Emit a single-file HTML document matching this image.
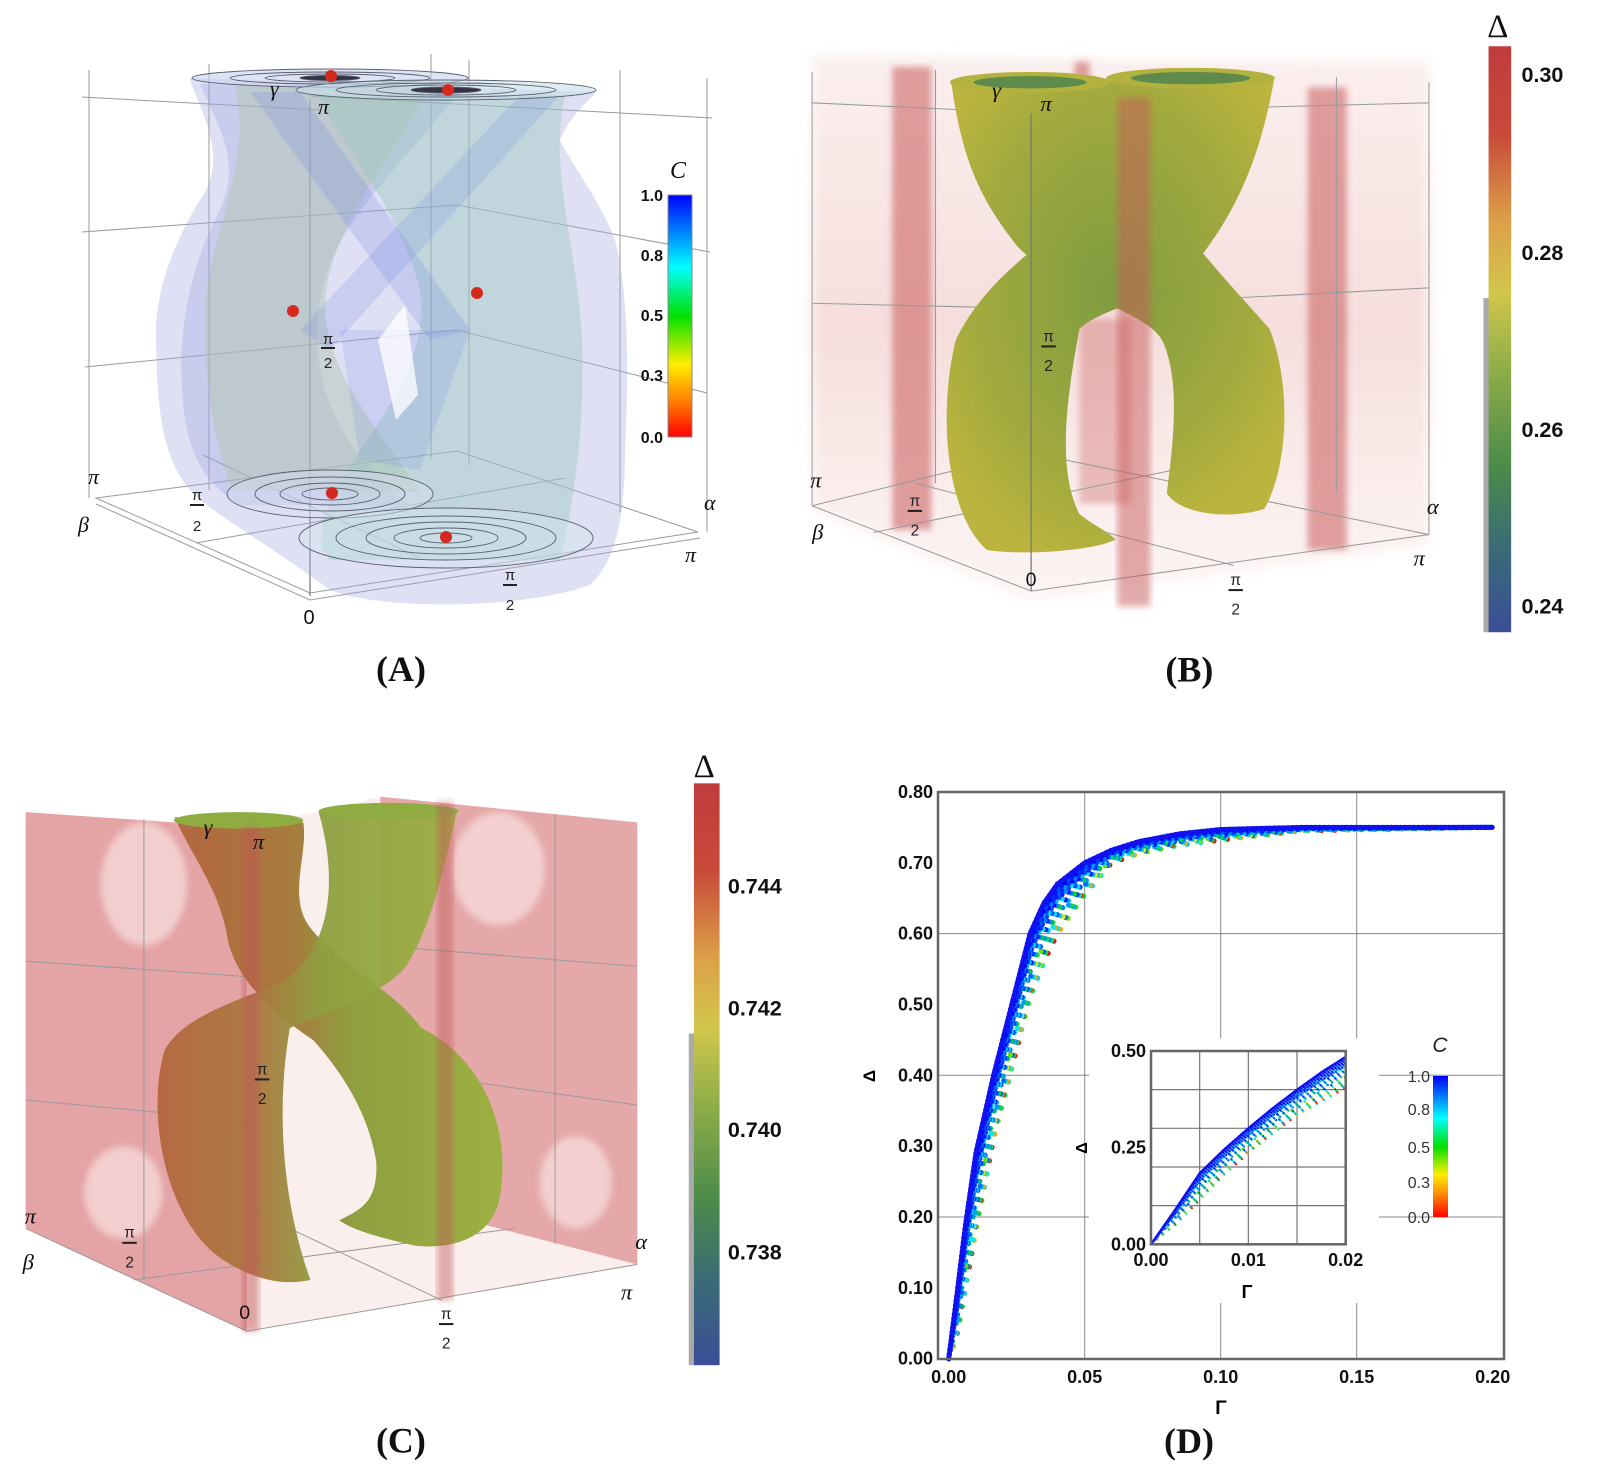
<!DOCTYPE html>
<html><head><meta charset="utf-8"><style>
html,body{margin:0;padding:0;background:#fff}
svg{display:block}
text{font-family:"Liberation Sans",sans-serif}
.serif{font-family:"Liberation Serif",serif}
.ax{font-family:"Liberation Serif",serif;font-style:italic;font-size:22px;fill:#111}
.frac{font-family:"Liberation Sans",sans-serif;font-size:15px;fill:#222}
.wire{stroke:#9a9a9a;stroke-width:1;fill:none}
</style></head><body>
<svg id="fig" width="1610" height="1468" viewBox="0 0 1610 1468" xmlns="http://www.w3.org/2000/svg">
<defs>
<linearGradient id="cmapV" x1="0" y1="1" x2="0" y2="0">
<stop offset="0" stop-color="#ff0000"/><stop offset="0.15" stop-color="#ff8000"/><stop offset="0.3" stop-color="#ffee00"/><stop offset="0.5" stop-color="#00e000"/><stop offset="0.7" stop-color="#00ffff"/><stop offset="0.85" stop-color="#0080ff"/><stop offset="1" stop-color="#0000ff"/>
</linearGradient>
<linearGradient id="deltaV" x1="0" y1="0" x2="0" y2="1">
<stop offset="0" stop-color="#c03c3c"/><stop offset="0.15" stop-color="#c84a3a"/><stop offset="0.3" stop-color="#dca048"/><stop offset="0.42" stop-color="#d2c64c"/><stop offset="0.55" stop-color="#8fae48"/><stop offset="0.72" stop-color="#4a8a4a"/><stop offset="0.86" stop-color="#3a6a78"/><stop offset="1" stop-color="#3a4e98"/>
</linearGradient>
<linearGradient id="stripV" x1="0" y1="0" x2="0" y2="1">
<stop offset="0" stop-color="#fff"/><stop offset="0.43" stop-color="#fff"/><stop offset="0.43" stop-color="#aaa"/><stop offset="1" stop-color="#aaa"/>
</linearGradient>
<radialGradient id="tubeB" cx="0.5" cy="0.45" r="0.6">
<stop offset="0" stop-color="#7f9c40"/><stop offset="0.7" stop-color="#a3aa3e"/><stop offset="1" stop-color="#bbb43e"/>
</radialGradient>
<linearGradient id="tubeC" x1="0" y1="0" x2="1" y2="0">
<stop offset="0" stop-color="#b3663e"/><stop offset="0.35" stop-color="#a87a3e"/><stop offset="0.55" stop-color="#8ea040"/><stop offset="1" stop-color="#9db042"/>
</linearGradient>
<linearGradient id="fogB" x1="0" y1="0" x2="0" y2="1">
<stop offset="0" stop-color="#f3d6d4" stop-opacity="0.4"/><stop offset="0.5" stop-color="#efc8c4" stop-opacity="0.6"/><stop offset="1" stop-color="#f5dedb" stop-opacity="0.3"/>
</linearGradient>
<filter id="blur3"><feGaussianBlur stdDeviation="3"/></filter>
<filter id="blur6"><feGaussianBlur stdDeviation="6"/></filter>
</defs>

<!-- ============ PANEL A ============ -->
<g>
<g>
<line class="wire" x1="89" y1="70" x2="89" y2="498"/>
<line class="wire" x1="209" y1="64" x2="209" y2="490"/>
<line class="wire" x1="431" y1="54" x2="431" y2="459"/>
<line class="wire" x1="469" y1="60" x2="469" y2="465"/>
<line class="wire" x1="620" y1="70" x2="620" y2="512"/>
<line class="wire" x1="707" y1="78" x2="707" y2="532"/>
<polyline class="wire" points="82,97 320,110"/>
<polyline class="wire" points="310,96 712,118"/>
<polyline class="wire" points="82,232 457,205 710,252"/>
<polyline class="wire" points="85,367 457,330 707,393"/>
<polygon class="wire" points="96,498 310,593 698,532 457,451"/>
<polyline class="wire" points="96,504 310,600 700,538"/>
<polyline class="wire" points="196,543 565,478"/>
<polyline class="wire" points="203,455 420,558"/>
<line x1="310" y1="99" x2="310" y2="596" stroke="#777" stroke-width="1.2"/>
</g>
<g>
<path d="M190,80 C205,120 228,160 200,200 C175,240 156,290 156,330 C156,420 165,470 200,500 C240,530 290,560 330,590 C380,610 520,610 590,585 C618,560 625,510 625,450 C628,380 630,300 615,240 C600,200 575,170 560,140 C570,115 590,100 596,92 L190,78 Z" fill="rgb(165,165,225)" fill-opacity="0.35"/>
<path d="M200,84 C220,130 245,165 215,220 C190,270 178,330 182,390 C186,450 200,480 240,505 L410,505 C330,440 310,380 320,300 C330,220 420,150 460,88 Z" fill="rgb(150,160,220)" fill-opacity="0.3"/>
<path d="M235,86 C250,150 225,200 208,280 C200,350 210,430 232,490 L420,492 C380,430 330,380 325,310 C322,240 395,150 430,88 Z" fill="rgb(175,195,170)" fill-opacity="0.45"/>
<path d="M318,95 C345,150 400,210 420,290 C430,360 380,420 340,480 C320,520 315,545 330,560 L560,560 C575,500 585,420 582,340 C578,250 548,170 565,96 Z" fill="rgb(150,200,185)" fill-opacity="0.42"/>
<path d="M250,92 L300,92 L470,330 L430,340 Z" fill="rgb(120,140,225)" fill-opacity="0.25"/>
<path d="M520,95 L560,95 L330,350 L300,330 Z" fill="rgb(120,140,225)" fill-opacity="0.22"/>
<path d="M340,330 L470,330 L420,470 L360,460 Z" fill="rgb(120,140,225)" fill-opacity="0.2"/>
<polygon points="378,340 405,305 418,395 396,420" fill="#fff" fill-opacity="0.75"/>
</g>
<g fill="none" stroke="#5a6070" stroke-width="0.9">
<ellipse cx="330" cy="78" rx="138" ry="9" fill="#c8d0ee" fill-opacity="0.6"/>
<ellipse cx="330" cy="78" rx="100" ry="6"/><ellipse cx="330" cy="78" rx="65" ry="4"/><ellipse cx="330" cy="78" rx="30" ry="2.5" fill="#334"/>
<ellipse cx="446" cy="90" rx="150" ry="10" fill="#c8e0ea" fill-opacity="0.6"/>
<ellipse cx="446" cy="90" rx="110" ry="7"/><ellipse cx="446" cy="90" rx="70" ry="5"/><ellipse cx="446" cy="90" rx="35" ry="3" fill="#334"/>
<ellipse cx="330" cy="494" rx="103" ry="24" fill="#d8dcf0" fill-opacity="0.5"/>
<ellipse cx="330" cy="494" rx="75" ry="17"/><ellipse cx="330" cy="494" rx="50" ry="11"/><ellipse cx="330" cy="494" rx="28" ry="6"/>
<ellipse cx="446" cy="538" rx="147" ry="30" fill="#d0e4ec" fill-opacity="0.5"/>
<ellipse cx="446" cy="538" rx="110" ry="22"/><ellipse cx="446" cy="538" rx="80" ry="16"/><ellipse cx="446" cy="538" rx="52" ry="10"/><ellipse cx="446" cy="538" rx="26" ry="5"/>
</g>
<g fill="#d42a1e">
<circle cx="331" cy="76" r="6"/><circle cx="448" cy="90" r="6"/><circle cx="293" cy="311" r="6"/><circle cx="477" cy="293" r="6"/><circle cx="332" cy="493" r="6"/><circle cx="446" cy="537" r="6"/>
</g>
<g>
<text class="ax" x="270" y="96">γ</text>
<text class="ax" x="318" y="114">π</text>
<text class="frac" x="328" y="344" text-anchor="middle">π</text><line x1="321" y1="348" x2="335" y2="348" stroke="#222" stroke-width="2"/><text class="frac" x="328" y="368" text-anchor="middle">2</text>
<text class="ax" x="88" y="484">π</text>
<text class="ax" x="78" y="532">β</text>
<text class="frac" x="197" y="500" text-anchor="middle">π</text><line x1="190" y1="505" x2="204" y2="505" stroke="#222" stroke-width="2"/><text class="frac" x="197" y="531" text-anchor="middle">2</text>
<text x="309" y="624" text-anchor="middle" font-size="20" fill="#111">0</text>
<text class="frac" x="510" y="580" text-anchor="middle">π</text><line x1="503" y1="585" x2="517" y2="585" stroke="#222" stroke-width="2"/><text class="frac" x="510" y="610" text-anchor="middle">2</text>
<text class="ax" x="685" y="562">π</text>
<text class="ax" x="704" y="510">α</text>
</g>
<g>
<text class="serif" x="678" y="178" font-style="italic" font-size="24" text-anchor="middle" fill="#111">C</text>
<rect x="668" y="195" width="24" height="242" fill="url(#cmapV)" stroke="#888" stroke-width="1"/>
<g class="serif" font-size="16" font-weight="bold" fill="#111" text-anchor="end">
<text x="663" y="201">1.0</text><text x="663" y="261">0.8</text><text x="663" y="321">0.5</text><text x="663" y="381">0.3</text><text x="663" y="443">0.0</text>
</g>
</g>
<text class="serif" x="401" y="681" font-size="36" font-weight="bold" text-anchor="middle" fill="#111">(A)</text>
</g>

<!-- ============ PANELS B & C ============ -->
<g transform="scale(1.028)">
<g>
<polygon points="790,55 1390,60 1390,530 1003,585 790,495" fill="url(#fogB)" filter="url(#blur6)"/>
<g fill="#c85a5a" fill-opacity="0.55" filter="url(#blur3)">
<rect x="868" y="65" width="38" height="450"/><rect x="1272" y="85" width="38" height="450"/><rect x="1045" y="60" width="15" height="40"/><rect x="1050" y="310" width="50" height="180" fill-opacity="0.35"/>
</g>
<g>
<line class="wire" x1="790" y1="70" x2="790" y2="492"/><line class="wire" x1="1390" y1="80" x2="1390" y2="520"/>
<line class="wire" x1="910" y1="68" x2="910" y2="470"/><line class="wire" x1="1300" y1="75" x2="1300" y2="480"/>
<polyline class="wire" points="790,100 1003,110 1390,100"/>
<polyline class="wire" points="790,295 1003,300 1390,280"/>
<polyline class="wire" points="790,492 1003,575 1390,520"/>
<polyline class="wire" points="790,492 1000,440 1390,520"/>
<polyline class="wire" points="850,518 1200,445"/><polyline class="wire" points="890,470 1200,550"/>
</g>
<g>
<path d="M925,78 C935,150 950,190 990,240 C1040,290 1110,300 1130,330 C1150,370 1140,440 1135,480 C1150,502 1200,505 1230,495 C1255,450 1255,370 1235,320 C1200,280 1160,240 1130,190 C1100,150 1090,110 1085,82 Z" fill="url(#tubeB)"/>
<path d="M1078,78 L1240,74 C1225,160 1200,210 1160,260 C1120,295 1070,300 1050,320 C1035,400 1030,460 1050,500 C1065,512 1080,518 1085,525 C1060,537 990,540 960,535 C920,500 912,400 930,330 C960,270 1010,240 1060,200 C1090,160 1085,110 1078,78 Z" fill="url(#tubeB)"/>
<ellipse cx="1002" cy="80" rx="78" ry="10" fill="#b4b23e"/><ellipse cx="1002" cy="80" rx="55" ry="6" fill="#5e8a4c"/>
<ellipse cx="1158" cy="76" rx="82" ry="10" fill="#b4b23e"/><ellipse cx="1158" cy="76" rx="58" ry="6" fill="#5e8a4c"/>
<rect x="1087" y="95" width="32" height="495" fill="#c85a5a" fill-opacity="0.5" filter="url(#blur3)"/>
</g>
<line x1="1003" y1="110" x2="1003" y2="575" stroke="#777" stroke-width="1.2"/>
<g>
<text class="ax" x="965" y="95">γ</text><text class="ax" x="1012" y="108">π</text>
<text class="frac" x="1020" y="332" text-anchor="middle">π</text><line x1="1013" y1="337" x2="1027" y2="337" stroke="#222" stroke-width="2"/><text class="frac" x="1020" y="361" text-anchor="middle">2</text>
<text class="ax" x="788" y="474">π</text><text class="ax" x="790" y="525">β</text>
<text class="frac" x="890" y="492" text-anchor="middle">π</text><line x1="883" y1="497" x2="897" y2="497" stroke="#222" stroke-width="2"/><text class="frac" x="890" y="521" text-anchor="middle">2</text>
<text x="1003" y="570" text-anchor="middle" font-size="19" fill="#111">0</text>
<text class="frac" x="1202" y="569" text-anchor="middle">π</text><line x1="1195" y1="574" x2="1209" y2="574" stroke="#222" stroke-width="2"/><text class="frac" x="1202" y="598" text-anchor="middle">2</text>
<text class="ax" x="1375" y="550">π</text><text class="ax" x="1388" y="500">α</text>
</g>
<g>
<text class="serif" x="1457" y="36" font-size="32" text-anchor="middle" fill="#111">Δ</text>
<rect x="1443" y="45" width="6" height="570" fill="url(#stripV)"/>
<rect x="1448" y="45" width="22" height="570" fill="url(#deltaV)"/>
<g font-size="21" font-weight="bold" fill="#111"><text x="1480" y="80">0.30</text><text x="1480" y="253">0.28</text><text x="1480" y="425">0.26</text><text x="1480" y="597">0.24</text></g>
</g>
<text class="serif" x="1157" y="663" font-size="35" font-weight="bold" text-anchor="middle" fill="#111">(B)</text>
</g>

<g>
<polygon points="240,805 370,775 620,800 620,1230 240,1295 25,1195 25,790" fill="#f6e4e0" fill-opacity="0.6"/>
<polygon points="25,790 240,805 240,1295 25,1195" fill="#dc8a8c" fill-opacity="0.75"/>
<polygon points="370,775 620,800 620,1230 370,1165" fill="#dc8a8c" fill-opacity="0.7"/>
<g fill="#f7dcdc" fill-opacity="0.75" filter="url(#blur3)">
<ellipse cx="140" cy="860" rx="42" ry="60"/><ellipse cx="120" cy="1160" rx="38" ry="45"/><ellipse cx="485" cy="845" rx="45" ry="55"/><ellipse cx="560" cy="1150" rx="35" ry="45"/>
</g>
<g>
<line class="wire" x1="140" y1="797" x2="140" y2="1245"/><line class="wire" x1="540" y1="792" x2="540" y2="1210"/>
<polyline class="wire" points="25,935 240,950"/><polyline class="wire" points="25,1070 240,1090"/>
<polyline class="wire" points="370,920 620,940"/><polyline class="wire" points="370,1040 620,1075"/>
<polyline class="wire" points="25,1195 240,1295 620,1230"/><polyline class="wire" points="130,1245 500,1195"/><polyline class="wire" points="250,1180 430,1265"/>
</g>
<g>
<path d="M170,795 L295,800 C300,830 280,870 300,900 C330,940 380,960 410,1000 C470,1030 500,1100 485,1170 C475,1205 440,1215 405,1212 C375,1205 345,1198 330,1187 C350,1177 368,1170 366,1130 C358,1080 330,1040 305,1012 C265,985 225,950 220,905 C210,860 185,830 170,795 Z" fill="url(#tubeC)"/>
<path d="M310,790 L445,788 C430,850 420,900 395,940 C370,970 315,985 282,1000 C268,1080 275,1170 302,1245 C272,1252 240,1242 212,1222 C160,1182 142,1082 160,1022 C180,985 240,972 280,952 C320,920 330,860 310,790 Z" fill="url(#tubeC)" fill-opacity="0.95"/>
<ellipse cx="232" cy="798" rx="63" ry="8" fill="#8fac42"/><ellipse cx="378" cy="789" rx="68" ry="8" fill="#8fac42"/>
<rect x="236" y="805" width="16" height="490" fill="#c05858" fill-opacity="0.5" filter="url(#blur3)"/>
<rect x="425" y="780" width="16" height="485" fill="#c05858" fill-opacity="0.45" filter="url(#blur3)"/>
</g>
<g>
<text class="ax" x="198" y="812">γ</text><text class="ax" x="246" y="826">π</text>
<text class="frac" x="255" y="1045" text-anchor="middle">π</text><line x1="248" y1="1050" x2="262" y2="1050" stroke="#222" stroke-width="2"/><text class="frac" x="255" y="1074" text-anchor="middle">2</text>
<text class="ax" x="24" y="1190">π</text><text class="ax" x="22" y="1235">β</text>
<text class="frac" x="126" y="1204" text-anchor="middle">π</text><line x1="119" y1="1209" x2="133" y2="1209" stroke="#222" stroke-width="2"/><text class="frac" x="126" y="1233" text-anchor="middle">2</text>
<text x="238" y="1283" text-anchor="middle" font-size="19" fill="#111">0</text>
<text class="frac" x="434" y="1283" text-anchor="middle">π</text><line x1="427" y1="1288" x2="441" y2="1288" stroke="#222" stroke-width="2"/><text class="frac" x="434" y="1312" text-anchor="middle">2</text>
<text class="ax" x="604" y="1264">π</text><text class="ax" x="618" y="1215">α</text>
</g>
<g>
<text class="serif" x="685" y="756" font-size="32" text-anchor="middle" fill="#111">Δ</text>
<rect x="670" y="762" width="6" height="566" fill="url(#stripV)"/>
<rect x="675" y="762" width="25" height="566" fill="url(#deltaV)"/>
<g font-size="21" font-weight="bold" fill="#111"><text x="708" y="869">0.744</text><text x="708" y="988">0.742</text><text x="708" y="1106">0.740</text><text x="708" y="1225">0.738</text></g>
</g>
<text class="serif" x="390" y="1413" font-size="35" font-weight="bold" text-anchor="middle" fill="#111">(C)</text>
</g>
</g>

<!-- ============ PANEL D ============ -->
<g id="panelD">
<rect x="938" y="792" width="566" height="567" fill="#fff"/>
<g id="dGrid"></g>
<rect x="1089" y="1038" width="290" height="265" fill="#fff"/>
<g id="dDots"></g>
<rect x="938" y="792" width="566" height="567" fill="none" stroke="#666" stroke-width="2.5"/>
<g id="dTicks"></g>
<text x="875" y="1076" font-size="17" font-weight="bold" text-anchor="middle" transform="rotate(-90 875 1076)">Δ</text>
<text x="1221" y="1414" font-size="19" font-weight="bold" text-anchor="middle">Γ</text>
<g id="iGrid"></g>
<g id="iDots"></g>
<rect x="1151" y="1051" width="194.7" height="193.3" fill="none" stroke="#666" stroke-width="2.5"/>
<g id="iTicks"></g>
<text x="1087" y="1148" font-size="16" font-weight="bold" text-anchor="middle" transform="rotate(-90 1087 1148)">Δ</text>
<text x="1247" y="1298" font-size="18" font-weight="bold" text-anchor="middle">Γ</text>
<g>
<text x="1440" y="1052" font-size="21" font-style="italic" text-anchor="middle" fill="#222">C</text>
<rect x="1433" y="1076" width="15" height="141" fill="url(#cmapV)"/>
<g font-size="16" fill="#333" text-anchor="end"><text x="1430" y="1082">1.0</text><text x="1430" y="1115">0.8</text><text x="1430" y="1153">0.5</text><text x="1430" y="1188">0.3</text><text x="1430" y="1223">0.0</text></g>
</g>
<text class="serif" x="1189" y="1453" font-size="36" font-weight="bold" text-anchor="middle" fill="#111">(D)</text>
</g>
</svg>
<script>
// ---- Panel D data ----
const mainGamma = [0, 0.003, 0.0062, 0.010, 0.0165, 0.0232, 0.0299, 0.035, 0.04, 0.05, 0.06, 0.07, 0.085, 0.10, 0.13, 0.20];
const mainUpper = [0, 0.09, 0.19, 0.29, 0.40, 0.50, 0.60, 0.643, 0.67, 0.70, 0.718, 0.73, 0.741, 0.747, 0.75, 0.75];
const mainLower = [0, 0.03, 0.10, 0.18, 0.31, 0.41, 0.51, 0.56, 0.60, 0.655, 0.70, 0.713, 0.725, 0.732, 0.745, 0.75];
const insetGamma = [0, 0.0025, 0.005, 0.0075, 0.01, 0.0125, 0.015, 0.0175, 0.02];
const insetUpper = [0, 0.09, 0.184, 0.245, 0.30, 0.352, 0.40, 0.445, 0.485];
const insetLower = [0, 0.05, 0.115, 0.18, 0.236, 0.287, 0.334, 0.37, 0.405];
const mainXTicks = ["0.00","0.05","0.10","0.15","0.20"];
const mainYTicks = ["0.00","0.10","0.20","0.30","0.40","0.50","0.60","0.70","0.80"];
const mainXGrid = [0.05, 0.10, 0.15];
const mainYGrid = [0.20, 0.40, 0.60];
const insetXTicks = ["0.00","0.01","0.02"];
const insetYTicks = ["0.00","0.25","0.50"];
const insetXGrid = [0.005, 0.01, 0.015];
const insetYGrid = [0.1, 0.2, 0.3, 0.4];

const NS = "http://www.w3.org/2000/svg";
const X = g => 948.7 + g / 0.05 * 136;
const Y = d => 1358.7 - d / 0.2 * 141.7;
const XI = g => 1151 + g / 0.02 * 194.7;
const YI = d => 1244.3 - d / 0.5 * 193.3;

function mk(tag, attrs, parent) {
  const e = document.createElementNS(NS, tag);
  for (const k in attrs) e.setAttribute(k, attrs[k]);
  parent.appendChild(e);
  return e;
}
function cmap(t) {
  const s = [[0,[255,0,0]],[0.15,[255,128,0]],[0.3,[255,235,0]],[0.5,[0,220,0]],[0.7,[0,230,255]],[0.85,[0,128,255]],[1,[0,0,255]]];
  t = Math.max(0, Math.min(1, t));
  for (let i = 1; i < s.length; i++) {
    if (t <= s[i][0]) {
      const f = (t - s[i-1][0]) / (s[i][0] - s[i-1][0]);
      const c = s[i-1][1].map((v, j) => Math.round(v + f * (s[i][1][j] - v)));
      return "rgb(" + c.join(",") + ")";
    }
  }
  return "rgb(0,0,255)";
}

const dGrid = document.getElementById("dGrid");
mainXGrid.forEach(v => {
  const l = mk("line", {x1: X(v), x2: X(v), y1: 792, y2: 1359, stroke: "#888", "stroke-width": 1}, dGrid);
  
  
});
mainYGrid.forEach(v => {
  const l = mk("line", {x1: 938, x2: 1504, y1: Y(v), y2: Y(v), stroke: "#888", "stroke-width": 1}, dGrid);
  
  
});
const iGrid = document.getElementById("iGrid");
insetXGrid.forEach(v => {
  const l = mk("line", {x1: XI(v), x2: XI(v), y1: 1051, y2: 1244.3, stroke: "#777", "stroke-width": 1.2}, iGrid);
  
  
});
insetYGrid.forEach(v => {
  const l = mk("line", {x1: 1151, x2: 1345.7, y1: YI(v), y2: YI(v), stroke: "#777", "stroke-width": 1.2}, iGrid);
  
  
});

const dTicks = document.getElementById("dTicks");
mainXTicks.forEach(s => {
  const t = mk("text", {x: X(parseFloat(s)), y: 1383, "text-anchor": "middle", "font-size": 18, "font-weight": "bold", fill: "#111"}, dTicks);
  t.textContent = s;
  
  
});
mainYTicks.forEach(s => {
  const t = mk("text", {x: 933, y: Y(parseFloat(s)) + 6, "text-anchor": "end", "font-size": 18, "font-weight": "bold", fill: "#111"}, dTicks);
  t.textContent = s;
  
  
});
const iTicks = document.getElementById("iTicks");
insetXTicks.forEach(s => {
  const t = mk("text", {x: XI(parseFloat(s)), y: 1266, "text-anchor": "middle", "font-size": 18, "font-weight": "bold", fill: "#111"}, iTicks);
  t.textContent = s;
  
  
});
insetYTicks.forEach(s => {
  const t = mk("text", {x: 1146, y: YI(parseFloat(s)) + 6, "text-anchor": "end", "font-size": 18, "font-weight": "bold", fill: "#111"}, iTicks);
  t.textContent = s;
  
  
});

function band(gam, up, lo, fx, fy, parent, r, step, nLev, name) {
  const offs = [-0.35, 0.1, 0.3, -0.15, 0.2, -0.5, 0.05, 0.4];
  for (let k = 0; k <= nLev; k++) {
    const t = k / nLev;
    const skip = t < 0.4 ? 3 : (t < 0.7 ? 2 : 1);
    const pts = gam.map((g, i) => [fx(g), fy(lo[i] + t * (up[i] - lo[i]))]);
    let acc = 0, idx = 0;
    for (let i = 1; i < pts.length; i++) {
      const [x0, y0] = pts[i-1], [x1, y1] = pts[i];
      const L = Math.hypot(x1 - x0, y1 - y0);
      let s = acc;
      while (s < L) {
        if (idx % skip === 0) {
          const f = s / L;
          const base = 0.35 + 0.65 * Math.pow(t, 0.6);
          const c = mk("circle", {cx: (x0 + f * (x1 - x0)).toFixed(1), cy: (y0 + f * (y1 - y0)).toFixed(1), r: r, fill: cmap(base + offs[(idx + k) % offs.length] * (1 - t))}, parent);
          
          
        }
        idx++;
        s += step;
      }
      acc = s - L;
    }
  }
  const pl = mk("polyline", {points: gam.map((g, i) => fx(g).toFixed(1) + "," + fy(up[i]).toFixed(1)).join(" "), fill: "none", stroke: "#1010f0", "stroke-width": r * 1.8}, parent);
  
  
}
band(mainGamma, mainUpper, mainLower, X, Y, document.getElementById("dDots"), 2.6, 4.5, 10, "main-scatter-point");
band(insetGamma, insetUpper, insetLower, XI, YI, document.getElementById("iDots"), 1.2, 2.6, 14, "inset-scatter-point");
</script>
</body></html>
